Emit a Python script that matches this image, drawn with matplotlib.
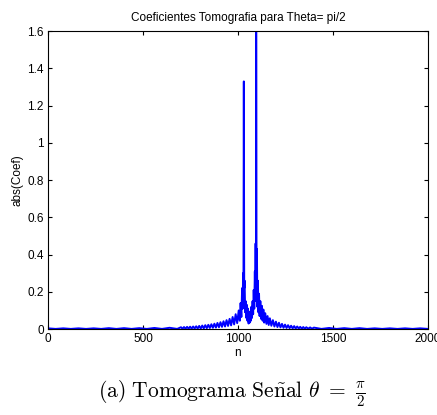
import matplotlib
matplotlib.use("Agg")
import matplotlib.pyplot as plt
from matplotlib.ticker import FuncFormatter

plt.rcParams['font.family'] = ['Liberation Sans', 'DejaVu Sans']
plt.rcParams['mathtext.fontset'] = 'cm'

# |coef| values (sample index n, magnitude)
n_left = [0, 40, 80, 120, 160, 200, 240, 280, 320, 360, 400, 440, 480, 520, 560, 600, 640, 680]
coef_left = [0.004, 0.001, 0.004, 0.001, 0.004, 0.001, 0.004, 0.001, 0.005,
             0.001, 0.005, 0.001, 0.005, 0.001, 0.006, 0.001, 0.007, 0.001]

n_mid = [700, 708, 716, 724, 732, 740, 748, 756, 764, 772, 780, 788, 796, 804, 812, 820,
         828, 836, 844, 852, 860, 868, 876, 884, 892, 900, 908, 916, 924, 932, 940, 948,
         956, 964, 972, 980, 988, 996, 1004, 1010, 1014, 1018, 1022, 1025, 1027, 1029,
         1031, 1033, 1035, 1038, 1041, 1044, 1047, 1050, 1053, 1056, 1059, 1062, 1065,
         1068, 1071, 1074, 1077, 1080, 1083, 1086, 1089, 1091, 1093, 1095, 1096, 1098,
         1100, 1102, 1105, 1108, 1111, 1114, 1118, 1122, 1126, 1130, 1134, 1138, 1144,
         1150, 1156, 1162, 1168, 1176, 1184, 1192, 1200, 1208, 1216, 1224, 1232, 1240,
         1248, 1256, 1264, 1272, 1280, 1288, 1296, 1304, 1312, 1320, 1328, 1336, 1344,
         1352, 1360, 1370, 1380, 1390, 1400]
coef_mid = [0.010, 0.002, 0.011, 0.002, 0.012, 0.002, 0.013, 0.002, 0.014, 0.003, 0.015,
            0.003, 0.017, 0.003, 0.019, 0.004, 0.021, 0.005, 0.023, 0.006, 0.026, 0.007,
            0.029, 0.008, 0.033, 0.010, 0.037, 0.012, 0.042, 0.014, 0.048, 0.017, 0.055,
            0.020, 0.065, 0.025, 0.080, 0.032, 0.100, 0.045, 0.140, 0.065, 0.220, 0.110,
            0.300, 0.180, 1.330, 0.220, 0.260, 0.090, 0.150, 0.060, 0.130, 0.045, 0.110,
            0.030, 0.080, 0.035, 0.095, 0.045, 0.120, 0.060, 0.150, 0.080, 0.210, 0.110,
            0.310, 0.180, 0.460, 0.150, 1.700, 0.220, 0.430, 0.120, 0.260, 0.090, 0.190,
            0.070, 0.150, 0.055, 0.125, 0.045, 0.105, 0.035, 0.085, 0.028, 0.070, 0.022,
            0.058, 0.018, 0.048, 0.014, 0.040, 0.011, 0.034, 0.009, 0.028, 0.007, 0.024,
            0.006, 0.021, 0.005, 0.018, 0.004, 0.016, 0.003, 0.014, 0.003, 0.012, 0.002,
            0.011, 0.002, 0.010, 0.002, 0.009, 0.002, 0.008]

n_right = [1440, 1480, 1520, 1560, 1600, 1640, 1680, 1720, 1760, 1800, 1840, 1880, 1920, 1960, 2000]
coef_right = [0.001, 0.006, 0.001, 0.005, 0.001, 0.005, 0.001, 0.004, 0.001,
              0.004, 0.001, 0.004, 0.001, 0.004, 0.001]

n = n_left + n_mid + n_right
coef = coef_left + coef_mid + coef_right

fig = plt.figure(figsize=(4.37, 4.15), dpi=100)
ax = fig.add_axes([0.110, 0.207, 0.869, 0.718])
ax.plot(n, coef, color='#0000ff', linewidth=1.4)

ax.set_xlim(0, 2000)
ax.set_ylim(0, 1.6)
ax.set_xticks([0, 500, 1000, 1500, 2000])
ax.set_yticks([0, 0.2, 0.4, 0.6, 0.8, 1.0, 1.2, 1.4, 1.6])
ax.yaxis.set_major_formatter(FuncFormatter(lambda v, p: '%g' % v))
ax.tick_params(direction='in', top=True, right=True, labelsize=8.5, length=3, pad=3)
for s in ax.spines.values():
    s.set_linewidth(0.8)

ax.set_title('Coeficientes Tomografia para Theta= pi/2', fontsize=8.5, pad=7)
ax.set_xlabel('n', fontsize=8.5, labelpad=1)
ax.set_ylabel('abs(Coef)', fontsize=8.5, labelpad=3)

fig.text(0.531, 0.05, r'$\mathrm{(a)\ Tomograma\ Se\tilde{n}al}\ \theta\ =\ \frac{\pi}{2}$',
         ha='center', va='center', fontsize=15.5)

fig.savefig('out.png', dpi=100)
